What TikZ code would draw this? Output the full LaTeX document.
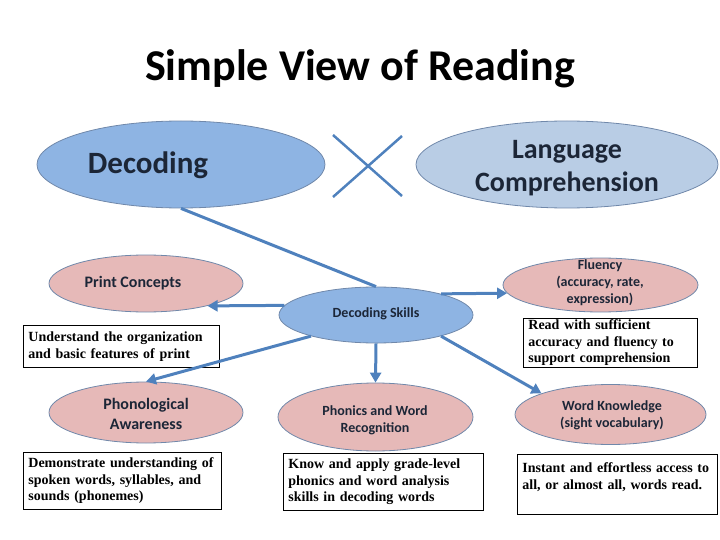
\documentclass[tikz,border=0pt]{standalone}
\usepackage{fontspec}
\setmainfont{Carlito}
\newfontfamily\boxfont{Liberation Serif}
\usetikzlibrary{shapes.geometric,arrows.meta}
\definecolor{linkblue}{HTML}{4F81BD}
\definecolor{darkfill}{HTML}{8EB4E3}
\definecolor{lightfill}{HTML}{B9CDE5}
\definecolor{pinkfill}{HTML}{E6B9B8}
\definecolor{rimcol}{HTML}{7088AA}
\definecolor{inktxt}{HTML}{1C2637}

\begin{document}
\begin{tikzpicture}[x=1pt,y=-1pt,
  oval/.style={ellipse,draw=rimcol,line width=0.8pt,inner sep=0pt},
  word/.style={align=center,text=inktxt,font=\bfseries\fontsize{14}{17}\selectfont},
  textbox/.style={draw=black,line width=0.8pt,anchor=north west,align=left,
    inner xsep=5pt,inner ysep=1pt,font=\boxfont\bfseries\fontsize{14}{16.5}\selectfont},
  link/.style={linkblue,line width=3pt},
  pointer/.style={link,-{Triangle[length=10pt,width=11pt]}}]
  \useasboundingbox (0,0) rectangle (720,540);

  \node[font=\bfseries\fontsize{44}{50}\selectfont,anchor=base] (title) at (360,81) {Simple View of Reading};

  \node[oval,fill=darkfill,minimum width=288pt,minimum height=87pt] (dec) at (181,164.5) {};
  \node[word,font=\bfseries\fontsize{31}{36}\selectfont,anchor=base] (dectxt) at (148,174) {Decoding};
  \node[oval,fill=lightfill,minimum width=302pt,minimum height=87pt] (lang) at (567,164.5) {};
  \node[word,font=\bfseries\fontsize{28}{33}\selectfont] (langtxt) at (567,168) {Language\\Comprehension};

  \coordinate (xa) at (333,135);
  \coordinate (xb) at (402,196);
  \coordinate (xc) at (333,197);
  \coordinate (xd) at (402,136);
  \draw[link,line width=2.5pt] (xa) -- (xb) (xc) -- (xd);

  \node[oval,fill=darkfill,minimum width=194pt,minimum height=56pt] (dskill) at (376,315) {};
  \node[word] (dskilltxt) at (376,314) {Decoding Skills};

  \node[oval,fill=pinkfill,minimum width=194pt,minimum height=57pt] (pc) at (146,283.5) {};
  \node[word,font=\bfseries\fontsize{16}{19}\selectfont] (pctxt) at (133,283) {Print Concepts};
  \node[oval,fill=pinkfill,minimum width=195pt,minimum height=54pt] (flu) at (600.5,285) {};
  \node[word] (flutxt) at (600,283) {Fluency\\(accuracy, rate,\\expression)};
  \node[oval,fill=pinkfill,minimum width=194pt,minimum height=61pt] (phon) at (146,412.5) {};
  \node[word,font=\bfseries\fontsize{16}{20}\selectfont] (phontxt) at (146,414) {Phonological\\Awareness};
  \node[oval,fill=pinkfill,minimum width=195pt,minimum height=68pt] (phonics) at (375.5,417) {};
  \node[word] (phonicstxt) at (375,420) {Phonics and Word\\Recognition};
  \node[oval,fill=pinkfill,minimum width=191pt,minimum height=60pt] (wk) at (610.5,414.5) {};
  \node[word] (wktxt) at (612,415) {Word Knowledge\\(sight vocabulary)};

  \node[textbox,text width=186pt,minimum height=42pt] (orgbox) at (23,325) {Understand the organization\\and basic features of print};
  \node[textbox,text width=164pt,minimum height=49pt] (flubox) at (523,318) {Read with sufficient\\accuracy and fluency to\\support comprehension};
  \node[textbox,text width=188pt,minimum height=57pt] (phonbox) at (23,452) {Demonstrate understanding of\\spoken words, syllables, and\\sounds (phonemes)};
  \node[textbox,text width=190pt,minimum height=57pt] (phonicsbox) at (283,453) {Know and apply grade-level\\phonics and word analysis\\skills in decoding words};
  \node[textbox,text width=190pt,minimum height=60pt] (wkbox) at (517,454) {Instant and effortless access to\\all, or almost all, words read.\\\mbox{}};

  \draw[link] (dec.south) -- (dskill.north);
  \draw[pointer] (dskill.174) -- (pc.340);
  \draw[pointer] (dskill.198) -- (phon.north);
  \draw[pointer] (dskill.south) -- (phonics.north);
  \draw[pointer] (dskill.18) -- (flu.185);
  \draw[pointer] (dskill.342) -- (wk.163);
\end{tikzpicture}
\end{document}
